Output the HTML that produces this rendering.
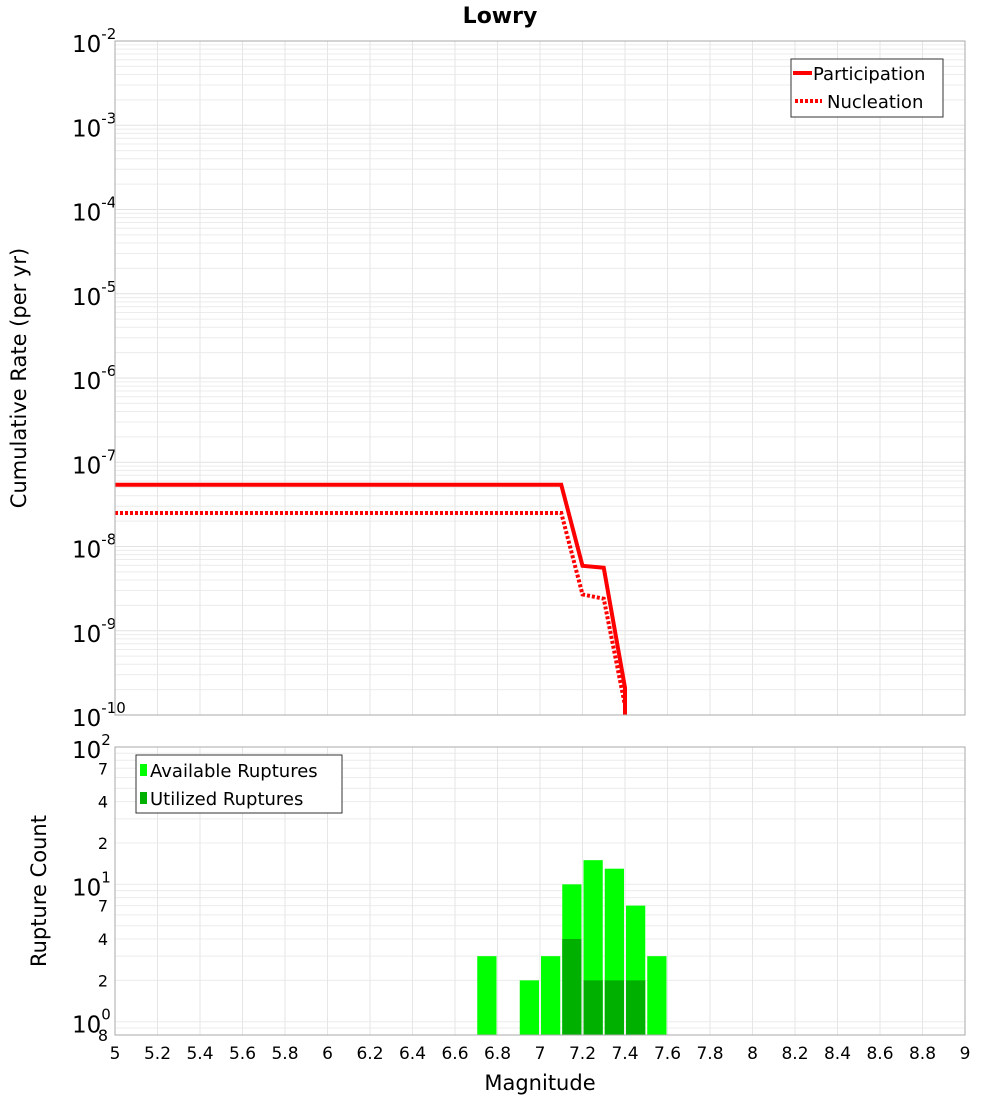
<!DOCTYPE html>
<html><head><meta charset="utf-8"><style>
body{margin:0;background:#fff;}
svg{display:block;font-family:"DejaVu Sans","Liberation Sans",sans-serif;}
</style></head><body>
<svg id="c" width="1000" height="1100" viewBox="0 0 1000 1100">
<text x="500" y="23" text-anchor="middle" font-size="22" font-weight="bold">Lowry</text>
<g id="topg"></g><g id="botg"></g>
<text transform="translate(26,378) rotate(-90)" text-anchor="middle" font-size="21">Cumulative Rate (per yr)</text>
<text transform="translate(46,891) rotate(-90)" text-anchor="middle" font-size="21">Rupture Count</text>
<text x="540" y="1090" text-anchor="middle" font-size="21">Magnitude</text>
<g>
<rect x="791" y="59" width="152" height="58" fill="#fff" stroke="#333"/>
<line x1="793" y1="73" x2="812" y2="73" stroke="red" stroke-width="4"/>
<text x="813" y="80" font-size="18">Participation</text>
<line x1="795" y1="101" x2="822" y2="101" stroke="red" stroke-width="4" stroke-dasharray="3,2"/>
<text x="827" y="108" font-size="18">Nucleation</text>
</g>
<g>
<rect x="136" y="755" width="206" height="58" fill="#fff" stroke="#333"/>
<rect x="140" y="764" width="7" height="12" fill="#00ff00"/>
<text x="150" y="777" font-size="18">Available Ruptures</text>
<rect x="140" y="792" width="7" height="12" fill="#00b000"/>
<text x="150" y="805" font-size="18">Utilized Ruptures</text>
</g>
</svg>
<script>
const partMags=[5.0,7.1,7.2,7.3,7.4,7.4];
const partRates=[5.4e-8,5.4e-8,5.9e-9,5.6e-9,2.1e-10,1e-11];
const nuclMags=[5.0,7.1,7.2,7.3,7.4,7.4];
const nuclRates=[2.5e-8,2.5e-8,2.7e-9,2.4e-9,1.3e-10,1e-11];
const binMags=[6.75,6.95,7.05,7.15,7.25,7.35,7.45,7.55];
const availCounts=[3,2,3,10,15,13,7,3];
const usedCounts=[0,0,0,4,2,2,2,0];
const xTicks=[5,5.2,5.4,5.6,5.8,6,6.2,6.4,6.6,6.8,7,7.2,7.4,7.6,7.8,8,8.2,8.4,8.6,8.8,9];
const topExps=[-2,-3,-4,-5,-6,-7,-8,-9,-10];
const NS="http://www.w3.org/2000/svg";
const L=115,R=965,T1=41,B1=715,T2=747,B2=1035;
const x=m=>L+(m-5)/4*(R-L);
const y1=v=>T1+(-2-Math.log10(v))/8*(B1-T1);
const y2=v=>B2-(Math.log10(v)-Math.log10(0.8))/Math.log10(100/0.8)*(B2-T2);
function mk(p,t,a){const e=document.createElementNS(NS,t);for(const k in a)e.setAttribute(k,a[k]);p.appendChild(e);return e;}
const gTop=document.getElementById('topg'),gBot=document.getElementById('botg');
const cp=mk(gTop,'clipPath',{id:'cp1'});
mk(cp,'rect',{x:L,y:T1,width:R-L,height:B1-T1});
for(let e=-10;e<-2;e++)for(let k=1;k<10;k++){const yy=y1(k*Math.pow(10,e));const g=mk(gTop,'line',{x1:L,x2:R,y1:yy,y2:yy,stroke:k==1?'#e2e2e2':'#ececec','stroke-width':1});

}
for(let e=-1;e<2;e++)for(let k=1;k<10;k++){const v=k*Math.pow(10,e);if(v<0.8||v>100)continue;const yy=y2(v);const g=mk(gBot,'line',{x1:L,x2:R,y1:yy,y2:yy,stroke:'#ececec','stroke-width':1});

}
xTicks.forEach(m=>{[[gTop,T1,B1],[gBot,T2,B2]].forEach(([p,a,b])=>{const g=mk(p,'line',{x1:x(m),x2:x(m),y1:a,y2:b,stroke:'#e6e6e6'});

});
const t=mk(gBot,'text',{x:x(m),y:1059,'text-anchor':'middle','font-size':17});t.textContent=String(m);

});
topExps.forEach(e=>{const yy=y1(Math.pow(10,e));const t=mk(gTop,'text',{x:72,y:yy+11,'font-size':23});


t.textContent='10';const s=mk(t,'tspan',{dy:-13,'font-size':15});s.textContent=String(e);});
[[100,'2'],[10,'1'],[1,'0']].forEach(([v,e])=>{const t=mk(gBot,'text',{x:72,y:y2(v)+11,'font-size':23});


t.textContent='10';const s=mk(t,'tspan',{dy:-13,'font-size':15});s.textContent=e;});
[70,40,20,7,4,2,0.8].forEach(v=>{const t=mk(gBot,'text',{x:108,y:y2(v)+6,'text-anchor':'end','font-size':16});


t.textContent=v>=10?String(v/10):(v<1?'8':String(v));});
const bw=(x(5.1)-x(5))-2;
binMags.forEach((m,i)=>{const r=mk(gBot,'rect',{x:x(m)-bw/2,y:y2(availCounts[i]),width:bw,height:B2-y2(availCounts[i]),fill:'#00ff00'});


if(usedCounts[i]>0){const u=mk(gBot,'rect',{x:x(m)-bw/2,y:y2(usedCounts[i]),width:bw,height:B2-y2(usedCounts[i]),fill:'#00b000'});

}});
const pts=(ms,vs)=>ms.map((m,i)=>x(m)+','+y1(vs[i])).join(' ');
const p1=mk(gTop,'polyline',{points:pts(partMags,partRates),fill:'none',stroke:'red','stroke-width':4,'clip-path':'url(#cp1)'});


const p2=mk(gTop,'polyline',{points:pts(nuclMags,nuclRates),fill:'none',stroke:'red','stroke-width':4,'stroke-dasharray':'3,2','clip-path':'url(#cp1)'});


const f1=mk(gTop,'rect',{x:L,y:T1,width:R-L,height:B1-T1,fill:'none',stroke:'#aaa'});


const f2=mk(gBot,'rect',{x:L,y:T2,width:R-L,height:B2-T2,fill:'none',stroke:'#aaa'});


</script>
</body></html>
